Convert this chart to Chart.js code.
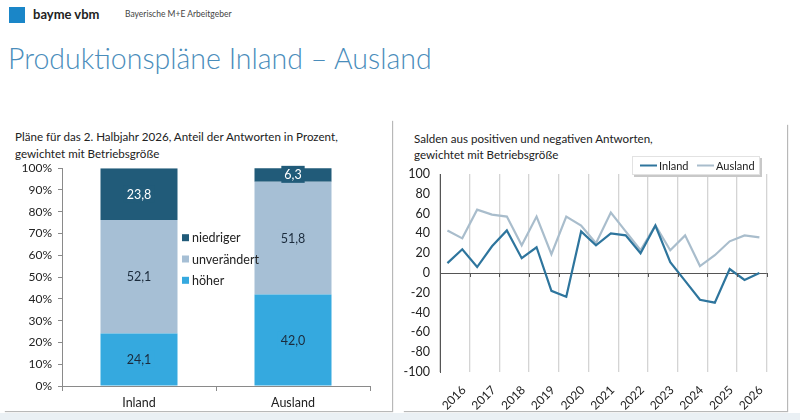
<!DOCTYPE html>
<html lang="de">
<head>
<meta charset="utf-8">
<script src="https://cdn.jsdelivr.net/npm/chart.js@4"></script>
<style>
  body { margin: 0; width: 800px; height: 420px; background: #fff; font-family: Lato, "Open Sans", sans-serif; position: relative; overflow: hidden; }
  .logo { position: absolute; left: 9px; top: 7px; width: 16px; height: 16px; background: #1a86c8; }
  .brand { position: absolute; left: 33px; top: 6px; font-size: 13px; font-weight: bold; color: #222; }
  .sub { position: absolute; left: 125px; top: 9px; font-size: 8.5px; color: #444; }
  .title { position: absolute; left: 8px; top: 41px; font-size: 28.5px; font-weight: 300; color: #4a8dbb; white-space: nowrap; }
  .panel { position: absolute; top: 120px; height: 291px; background: #fff; }
  #panelL { left: 4px; width: 388px; box-shadow: 1px 1px 1px #b8b8b8; }
  #panelR { left: 403px; width: 384px; top: 124px; height: 287px; box-shadow: 1px 1px 1px #b8b8b8; }
  .band { position: absolute; left: 0; top: 413px; width: 800px; height: 7px; background: #eaf0f4; }
  .ctitle { position: absolute; font-size: 11.6px; line-height: 17px; color: #222; white-space: nowrap; }
  canvas { position: absolute; }
</style>
</head>
<body>
<div class="logo"></div>
<div class="brand">bayme vbm</div>
<div class="sub">Bayerische M+E Arbeitgeber</div>
<div class="title">Produktionspläne Inland – Ausland</div>
<div class="panel" id="panelL"></div>
<div class="panel" id="panelR"></div>
<div class="band"></div>
<div class="ctitle" style="left:15px; top:128px;">Pläne für das 2. Halbjahr 2026, Anteil der Antworten in Prozent,<br>gewichtet mit Betriebsgröße</div>
<div class="ctitle" style="left:414px; top:131px; line-height:16px;">Salden aus positiven und negativen Antworten,<br>gewichtet mit Betriebsgröße</div>
<canvas id="shareChart" width="392" height="258" style="left:0; top:155px;"></canvas>
<canvas id="balanceChart" width="395" height="263" style="left:393px; top:150px;"></canvas>
<script>
// left chart: shares of answers
const categories = ["Inland", "Ausland"];
const hoeher = [24.1, 42.0];
const unveraendert = [52.1, 51.8];
const niedriger = [23.8, 6.3];

// right chart: half-year balances 2016 H1 .. 2026 H2
const years = ["2016", "2017", "2018", "2019", "2020", "2021", "2022", "2023", "2024", "2025", "2026"];
const inland = [10, 24, 6, 27, 43, 15, 26, -18, -24, 42, 28, 40, 38, 20, 48, 11, -8, -27, -30, 4, -7, 0];
const ausland = [43, 35, 64, 59, 57, 28, 57, 19, 57, 48, 30, 61, 42, 23, 48, 23, 38, 7, 18, 32, 38, 36];

const FONT = "Lato, 'Open Sans', sans-serif";
const AXIS = "#8a8a8a";

const fmt = v => v.toFixed(1).replace(".", ",");

const barLabels = {
  id: "barLabels",
  afterDatasetsDraw(chart) {
    const ctx = chart.ctx;
    ctx.save();
    ctx.font = `12.5px ${FONT}`;
    ctx.textAlign = "center";
    ctx.textBaseline = "middle";
    chart.data.datasets.forEach((ds, i) => {
      chart.getDatasetMeta(i).data.forEach((bar, j) => {
        const y = (bar.y + bar.base) / 2;
        const text = fmt(ds.data[j]);
        const w = ctx.measureText(text).width + 6;
        ctx.fillStyle = ds.backgroundColor;
        ctx.fillRect(bar.x - w / 2, y - 9, w, 17);
        ctx.fillStyle = ds.labelColor;
        ctx.fillText(text, bar.x, y + 0.5);
      });
    });
    ctx.restore();
  },
  afterDraw(chart) {
    const ctx = chart.ctx;
    const area = chart.chartArea;
    ctx.save();
    ctx.font = `12.5px ${FONT}`;
    ctx.textBaseline = "middle";
    const items = chart.data.datasets.slice().reverse();
    items.forEach((ds, k) => {
      const y = area.top + 69.5 + k * 21.3;
      ctx.fillStyle = ds.backgroundColor;
      ctx.fillRect(182, y - 3.5, 7, 7);
      ctx.fillStyle = "#222";
      ctx.fillText(ds.label, 192, y + 0.5);
    });
    ctx.restore();
  }
};

new Chart(document.getElementById("shareChart"), {
  type: "bar",
  data: {
    labels: categories,
    datasets: [
      { label: "höher", data: hoeher, backgroundColor: "#35a9df", labelColor: "#1b2b3c" },
      { label: "unverändert", data: unveraendert, backgroundColor: "#a6bfd5", labelColor: "#1b2b3c" },
      { label: "niedriger", data: niedriger, backgroundColor: "#215b79", labelColor: "#ffffff" },
    ],
  },
  options: {
    responsive: false,
    animation: false,
    layout: { padding: { top: 7, right: 22, left: 0, bottom: 0 } },
    datasets: { bar: { barPercentage: 0.5, categoryPercentage: 1.0 } },
    plugins: { legend: { display: false }, tooltip: { enabled: false } },
    scales: {
      x: {
        stacked: true,
        afterFit: scale => { scale.height = 27; },
        grid: { drawOnChartArea: false, offset: true, tickLength: 5, color: AXIS },
        border: { color: AXIS },
        ticks: { color: "#222", font: { family: FONT, size: 12.5 }, padding: 4 },
      },
      y: {
        stacked: true,
        min: 0,
        max: 100,
        afterFit: scale => { scale.width = 62; },
        grid: { drawOnChartArea: false, tickLength: 4, color: AXIS },
        border: { color: AXIS },
        ticks: { stepSize: 10, color: "#222", font: { family: FONT, size: 12 }, padding: 6, callback: v => v + "%" },
      },
    },
  },
  plugins: [barLabels],
});

// x ticks: year boundaries (even index) and year centers (odd index)
const xTicks = [];
for (let k = 0; k <= inland.length; k++) {
  xTicks.push({ value: k - 0.5 });
}

const balanceDecor = {
  id: "balanceDecor",
  afterDraw(chart) {
    const ctx = chart.ctx;
    const x = chart.scales.x;
    const y0 = chart.scales.y.getPixelForValue(0);
    ctx.save();
    ctx.strokeStyle = "#555";
    ctx.lineWidth = 1;
    x.ticks.forEach((t, i) => {
      if (i % 2 !== 0) return;
      const px = Math.round(x.getPixelForValue(t.value)) + 0.5;
      ctx.beginPath();
      ctx.moveTo(px, y0);
      ctx.lineTo(px, y0 + 4);
      ctx.stroke();
    });
    // legend box
    const bx = 239, by = 6, bw = 128, bh = 19;
    ctx.fillStyle = "#c8c8c8";
    ctx.fillRect(bx + 2, by + 2, bw, bh);
    ctx.fillStyle = "#fff";
    ctx.fillRect(bx, by, bw, bh);
    ctx.strokeStyle = "#e2e2e2";
    ctx.strokeRect(bx + 0.5, by + 0.5, bw - 1, bh - 1);
    ctx.font = `11px ${FONT}`;
    ctx.textBaseline = "middle";
    const slots = [247, 304];
    chart.data.datasets.forEach((ds, i) => {
      const sx = slots[i];
      const sy = by + bh / 2;
      ctx.strokeStyle = ds.borderColor;
      ctx.lineWidth = 2;
      ctx.beginPath();
      ctx.moveTo(sx, sy);
      ctx.lineTo(sx + 17, sy);
      ctx.stroke();
      ctx.fillStyle = "#222";
      ctx.fillText(ds.label, sx + 19, sy + 0.5);
    });
    ctx.restore();
  }
};

new Chart(document.getElementById("balanceChart"), {
  type: "line",
  data: {
    datasets: [
      { label: "Inland", data: inland.map((v, i) => ({ x: i, y: v })), borderColor: "#2e759d", borderWidth: 2.2 },
      { label: "Ausland", data: ausland.map((v, i) => ({ x: i, y: v })), borderColor: "#a9bdcc", borderWidth: 2.2 },
    ],
  },
  options: {
    responsive: false,
    animation: false,
    layout: { padding: { top: 24, right: 8, left: 0, bottom: 0 } },
    elements: { point: { radius: 0 }, line: { tension: 0 } },
    plugins: { legend: { display: false }, tooltip: { enabled: false } },
    scales: {
      x: {
        type: "linear",
        min: -0.5,
        max: inland.length - 0.5,
        afterBuildTicks: scale => { scale.ticks = xTicks.map(t => ({ value: t.value })); },
        afterFit: scale => { scale.height = 41; },
        grid: {
          drawTicks: false,
          color: ctx => (ctx.index % 2 === 0 ? "#d4d4d4" : "rgba(0,0,0,0)"),
          lineWidth: 1.3,
        },
        border: { display: false },
        ticks: {
          autoSkip: false,
          minRotation: 45,
          maxRotation: 45,
          padding: 11,
          labelOffset: 9,
          color: "#222",
          font: { family: FONT, size: 12 },
          callback: (v, i) => (i % 2 === 1 ? years[(i - 1) / 2] : ""),
        },
      },
      y: {
        min: -100,
        max: 100,
        afterFit: scale => { scale.width = 47; },
        grid: {
          drawTicks: false,
          color: ctx => (ctx.tick.value === 0 ? "#555" : "rgba(0,0,0,0)"),
        },
        border: { color: "#555" },
        ticks: { stepSize: 20, padding: 10, color: "#222", font: { family: FONT, size: 12.5 } },
      },
    },
  },
  plugins: [balanceDecor],
});
</script>
</body>
</html>
